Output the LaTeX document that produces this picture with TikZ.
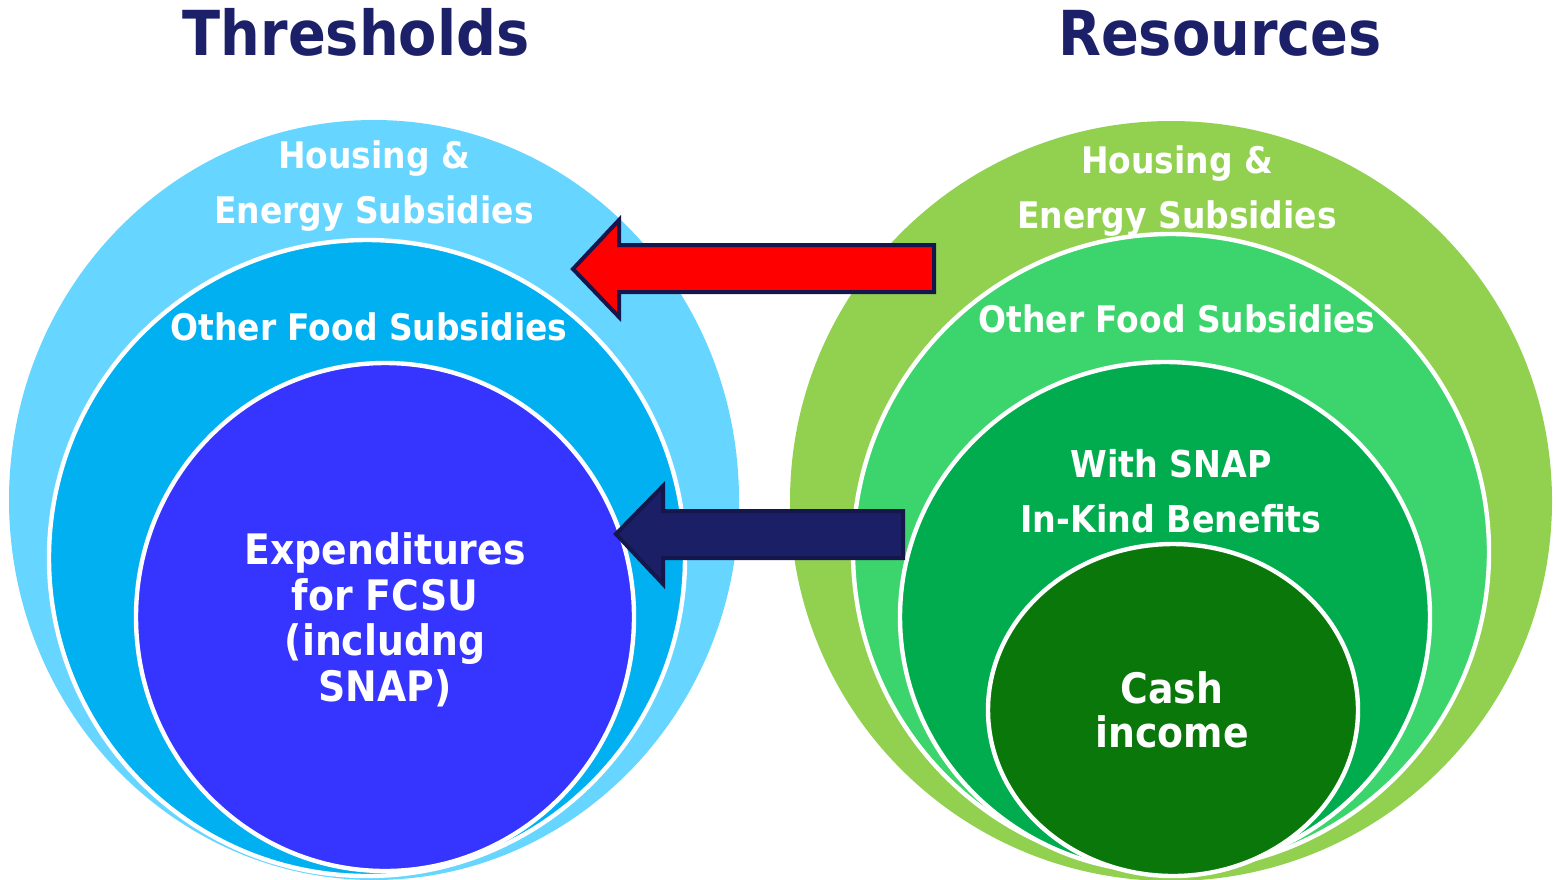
\documentclass[tikz,border=0pt]{standalone}
\usepackage{fontspec}
\setmainfont{DejaVu Sans Condensed}
\definecolor{titlenavy}{HTML}{1B2068}
\definecolor{skyout}{HTML}{66D5FF}
\definecolor{skymid}{HTML}{00B0F0}
\definecolor{royal}{HTML}{3535FF}
\definecolor{limeout}{HTML}{92D050}
\definecolor{greenmid}{HTML}{3CD46C}
\definecolor{greenin}{HTML}{00AC4E}
\definecolor{greendark}{HTML}{0A770A}
\definecolor{arrowedge}{HTML}{14164C}
\definecolor{arrownavy}{HTML}{1B1F66}

\begin{document}
\begin{tikzpicture}
		[
			x=0.5pt, y=-0.5pt,
			% White rim round the inner rings.
			ring/.style={draw=white, line width=2.2pt},
			% And an outline for the block arrows.
			blockarrow/.style={draw=arrowedge, line width=2pt, line join=miter},
			headline/.style={anchor=base, text=titlenavy, font=\bfseries\fontsize{31}{37}\selectfont},
			% Texts sit on the baseline of their last line.
			ringtext/.style={anchor=base, align=center, text=white, inner sep=0pt}
		]
			\clip (0,0) rectangle (1556,879);
			
			% Thresholds rings.
			\fill[skyout] (374,500) ellipse [x radius=365, y radius=380];
			\draw[ring, fill=skymid] (367,558) circle [radius=318];
			\draw[ring, fill=royal] (385,617) ellipse [x radius=249, y radius=254];
			
			% Resources rings.
			\fill[limeout] (1171,501) ellipse [x radius=381, y radius=380];
			\draw[ring, fill=greenmid] (1171,552) circle [radius=318];
			\draw[ring, fill=greenin] (1165,617) ellipse [x radius=265, y radius=255];
			\draw[ring, fill=greendark] (1173,710) ellipse [x radius=185, y radius=166];
			
			\node[headline] (thr) at (356,55) {Thresholds};
			\node[headline] (res) at (1220,55) {Resources};
			
			\node[ringtext, font=\bfseries\fontsize{18.3}{27.5}\selectfont] (lhouse) at (374,223) {Housing \&\\Energy Subsidies};
			\node[ringtext, font=\bfseries\fontsize{18.3}{27.5}\selectfont] (lfood) at (369,340) {Other Food Subsidies};
			\node[ringtext, font=\bfseries\fontsize{21}{22.7}\selectfont] (lexp) at (385,701) {Expenditures\\for FCSU\\(includng\\SNAP)};
			
			\node[ringtext, font=\bfseries\fontsize{18.3}{27.5}\selectfont] (rhouse) at (1177,228) {Housing \&\\Energy Subsidies};
			\node[ringtext, font=\bfseries\fontsize{18.3}{27.5}\selectfont] (rfood) at (1177,332) {Other Food Subsidies};
			\node[ringtext, font=\bfseries\fontsize{18.5}{27.5}\selectfont] (rsnap) at (1171,532) {With SNAP\\In-Kind Benefits};
			\node[ringtext, font=\bfseries\fontsize{21}{22}\selectfont] (rcash) at (1172,747) {Cash\\income};
			
			% Arrows from resources to thresholds.
			\draw[blockarrow, fill=red] (573,269) -- (619,220) -- (619,245) -- (934,245)
				-- (934,292) -- (619,292) -- (619,317) -- cycle;
			\draw[blockarrow, fill=arrownavy] (616,534) -- (663,486) -- (663,511) -- (903,511)
				-- (903,558) -- (663,558) -- (663,584) -- cycle;
		\end{tikzpicture}
\end{document}
